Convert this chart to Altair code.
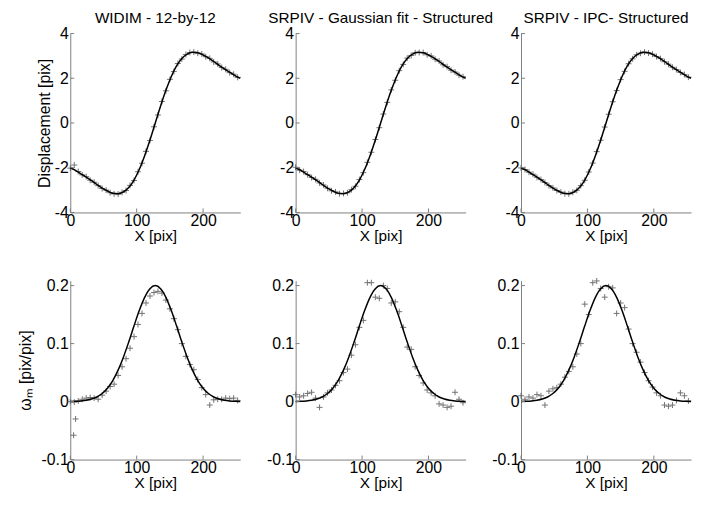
import altair as alt
import pandas as pd

# ---------------- data ----------------
TITLES = ["WIDIM - 12-by-12", "SRPIV - Gaussian fit - Structured", "SRPIV - IPC- Structured"]

LINE_X = [0, 8, 16, 24, 32, 40, 48, 56, 64, 72, 80, 88, 96, 104, 112, 120, 128,
          136, 144, 152, 160, 168, 176, 184, 192, 200, 208, 216, 224, 232, 240, 248, 256]
DISP_LINE = [-2.00, -2.12, -2.27, -2.42, -2.58, -2.75, -2.91, -3.04, -3.14, -3.16, -3.08,
             -2.88, -2.55, -2.07, -1.46, -0.76, 0.00, 0.76, 1.46, 2.07, 2.55, 2.88, 3.08,
             3.16, 3.14, 3.04, 2.91, 2.75, 2.58, 2.42, 2.27, 2.12, 2.00]
VORT_LINE = [0.0002, 0.0005, 0.0011, 0.0022, 0.0043, 0.0079, 0.0139, 0.0231, 0.0363, 0.0542,
             0.0766, 0.1027, 0.1306, 0.1573, 0.1798, 0.1947, 0.2000, 0.1947, 0.1798, 0.1573,
             0.1306, 0.1027, 0.0766, 0.0542, 0.0363, 0.0231, 0.0139, 0.0079, 0.0043, 0.0022,
             0.0011, 0.0005, 0.0002]

MARK_X = [0, 6, 12, 18, 24, 30, 36, 42, 48, 54, 60, 66, 72, 78, 84, 90, 96, 102, 108, 114,
          120, 126, 132, 138, 144, 150, 156, 162, 168, 174, 180, 186, 192, 198, 204, 210,
          216, 222, 228, 234, 240, 246, 252]

DISP_WIDIM = [-2.02, -1.88, -2.17, -2.32, -2.40, -2.56, -2.65, -2.80, -2.93, -3.00, -3.12,
              -3.17, -3.18, -3.10, -3.02, -2.79, -2.57, -2.18, -1.80, -1.27, -0.78, -0.17,
              0.36, 0.96, 1.44, 1.95, 2.30, 2.66, 2.86, 3.06, 3.15, 3.17, 3.12, 3.09, 2.96,
              2.89, 2.73, 2.64, 2.48, 2.40, 2.25, 2.18, 2.04]
DISP_GAUSS = [-1.98, -2.11, -2.17, -2.31, -2.44, -2.52, -2.68, -2.77, -2.92, -3.03, -3.08,
              -3.16, -3.15, -3.12, -2.98, -2.83, -2.53, -2.22, -1.76, -1.31, -0.74, -0.21,
              0.40, 0.92, 1.48, 1.91, 2.34, 2.62, 2.90, 3.02, 3.14, 3.15, 3.15, 3.05, 3.00,
              2.85, 2.77, 2.60, 2.52, 2.36, 2.28, 2.14, 2.07]
DISP_IPC = [-2.01, -2.08, -2.20, -2.29, -2.43, -2.53, -2.66, -2.80, -2.90, -3.02, -3.09,
            -3.16, -3.17, -3.10, -3.01, -2.80, -2.56, -2.19, -1.79, -1.28, -0.77, -0.18,
            0.39, 0.95, 1.45, 1.94, 2.31, 2.65, 2.87, 3.05, 3.12, 3.17, 3.13, 3.08, 2.97,
            2.88, 2.74, 2.63, 2.49, 2.39, 2.26, 2.17, 2.05]

VORT_WIDIM = [0.000, -0.001, 0.001, 0.004, 0.006, 0.007, 0.006, 0.004, 0.011, 0.018, 0.026,
              0.030, 0.045, 0.060, 0.074, 0.092, 0.112, 0.133, 0.152, 0.170, 0.182, 0.188,
              0.190, 0.187, 0.175, 0.160, 0.143, 0.124, 0.100, 0.078, 0.064, 0.055, 0.038,
              0.024, 0.012, -0.006, 0.003, 0.004, 0.004, 0.006, 0.005, 0.006, 0.002]
VORT_GAUSS = [0.012, 0.008, 0.010, 0.014, 0.016, 0.006, -0.010, 0.008, 0.015, 0.020, 0.028,
              0.036, 0.050, 0.056, 0.080, 0.098, 0.128, 0.140, 0.205, 0.205, 0.180, 0.178,
              0.200, 0.195, 0.170, 0.172, 0.155, 0.128, 0.094, 0.090, 0.060, 0.045, 0.032,
              0.020, 0.015, 0.010, -0.004, -0.006, -0.010, -0.008, 0.016, 0.004, -0.002]
VORT_IPC = [0.010, 0.004, 0.008, 0.006, 0.012, 0.010, -0.006, 0.018, 0.022, 0.024, 0.030,
            0.042, 0.052, 0.060, 0.082, 0.100, 0.168, 0.150, 0.205, 0.208, 0.195, 0.180,
            0.198, 0.196, 0.152, 0.170, 0.162, 0.125, 0.100, 0.085, 0.068, 0.050, 0.036,
            0.025, 0.015, 0.010, -0.006, -0.008, -0.006, 0.002, 0.015, 0.010, 0.001]

OUTLIER_X = [5, 8]
OUTLIER_Y = [-0.058, -0.030]

X_TICKS = [0, 100, 200]
DISP_TICKS = [-4, -2, 0, 2, 4]
VORT_TICKS = [-0.1, 0, 0.1, 0.2]

# ---------------- styling ----------------
W, H = 172, 181
FONT = "Liberation Sans"
AXIS_GRAY = "#808080"
MARK_GRAY = "#5a5a5a"
CROSS = "M-1,0L1,0M0,-1L0,1"


def panel(line_y, mark_x, mark_y, ydomain, yticks, title=None, ytitle=None, ytpad=2):
    xs = alt.Scale(domain=[0, 256], nice=False, zero=False)
    ys = alt.Scale(domain=ydomain, nice=False, zero=False)
    xaxis = alt.Axis(values=X_TICKS, title="X [pix]", ticks=False, grid=False,
                     labelExpr="datum.value + ''", labelPadding=0, titlePadding=0,
                     titleFontSize=15.5)
    yaxis = alt.Axis(values=yticks, title=ytitle if ytitle else None, ticks=False, grid=False,
                     labelExpr="datum.value + ''", titlePadding=ytpad, labelPadding=2)
    line_df = pd.DataFrame({"x": LINE_X, "y": line_y})
    mark_df = pd.DataFrame({"x": mark_x, "y": mark_y})
    xt_df = pd.DataFrame({"t": X_TICKS})
    yt_df = pd.DataFrame({"t": yticks})

    marks = alt.Chart(mark_df).mark_point(shape=CROSS, size=36, filled=False,
                                          stroke=MARK_GRAY, strokeWidth=1, opacity=0.85).encode(
        x=alt.X("x:Q", scale=xs, axis=xaxis),
        y=alt.Y("y:Q", scale=ys, axis=yaxis))
    line = alt.Chart(line_df).mark_line(color="black", strokeWidth=1.5,
                                        interpolate="monotone").encode(
        x=alt.X("x:Q", scale=xs), y=alt.Y("y:Q", scale=ys))
    xt = alt.Chart(xt_df).mark_rule(color=AXIS_GRAY, strokeWidth=1).encode(
        x=alt.X("t:Q", scale=xs), y=alt.value(H), y2=alt.value(H - 4))
    yt = alt.Chart(yt_df).mark_rule(color=AXIS_GRAY, strokeWidth=1).encode(
        y=alt.Y("t:Q", scale=ys), x=alt.value(0), x2=alt.value(4))
    ch = alt.layer(marks, line, xt, yt).properties(width=W, height=H)
    if title:
        ch = ch.properties(title=alt.Title(title, fontSize=15.5, font=FONT, fontWeight="normal",
                                           color="black", offset=-1))
    return ch


VD = [-0.1, 0.2085]
panels = [
    panel(DISP_LINE, MARK_X, DISP_WIDIM, [-4, 4], DISP_TICKS, TITLES[0], "Displacement [pix]"),
    panel(DISP_LINE, MARK_X, DISP_GAUSS, [-4, 4], DISP_TICKS, TITLES[1]),
    panel(DISP_LINE, MARK_X, DISP_IPC, [-4, 4], DISP_TICKS, TITLES[2]),
    panel(VORT_LINE, MARK_X + OUTLIER_X, VORT_WIDIM + OUTLIER_Y, VD, VORT_TICKS,
          None, "\u03c9\u2098 [pix/pix]", ytpad=8),
    panel(VORT_LINE, MARK_X, VORT_GAUSS, VD, VORT_TICKS),
    panel(VORT_LINE, MARK_X, VORT_IPC, VD, VORT_TICKS),
]

chart = alt.concat(*panels, columns=3, spacing={"row": 69, "column": 56},
                   bounds="flush").properties(
    background="white", padding={"left": 9, "top": 0, "right": 0, "bottom": 0}
).configure_view(
    stroke=None
).configure_axis(
    labelFont=FONT, titleFont=FONT, labelFontSize=16, titleFontSize=16,
    labelColor="black", titleColor="black", titleFontWeight="normal",
    domainColor=AXIS_GRAY, domainWidth=1,
    labelFlush=False, labelOverlap=False
)

chart.save("out.html", embed_options={"renderer": "svg", "actions": False})
